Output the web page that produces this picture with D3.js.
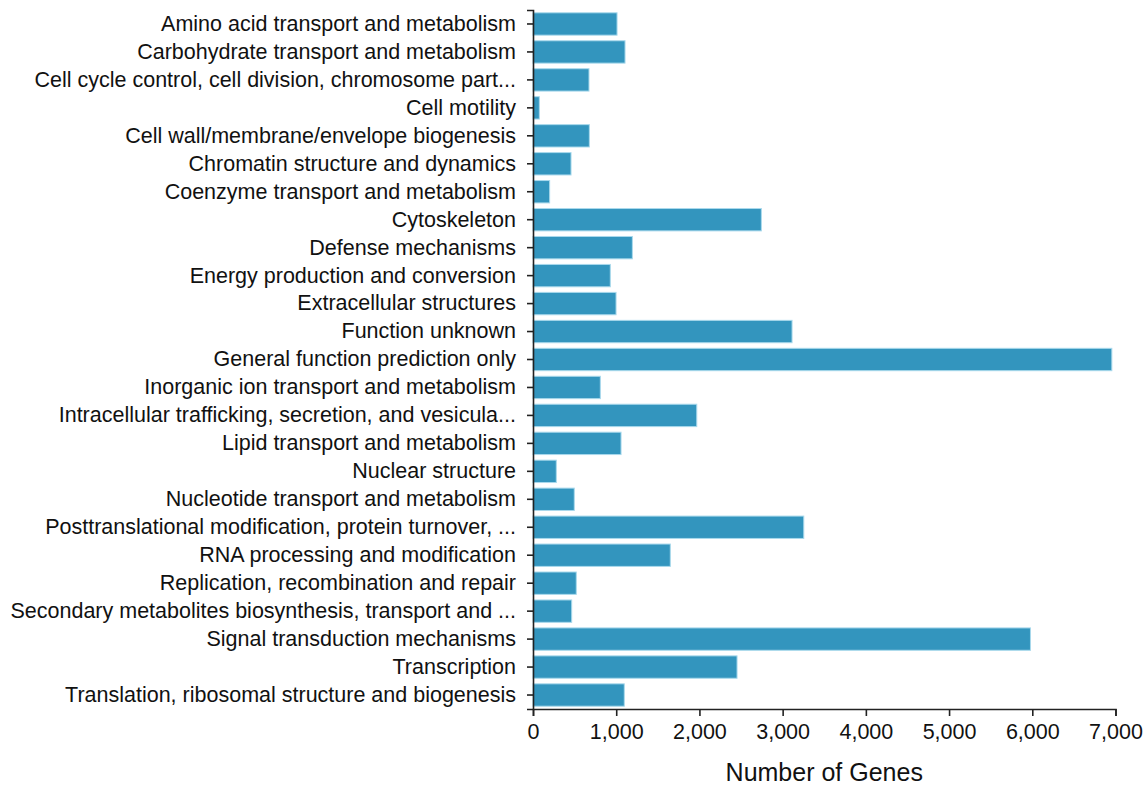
<!DOCTYPE html>
<html>
<head>
<meta charset="utf-8">
<script src="https://cdn.jsdelivr.net/npm/d3@7"></script>
<style>
  body { margin: 0; background: #fff; }
  svg { display: block; font-family: "Liberation Sans", Arial, sans-serif; }
</style>
</head>
<body>
<svg id="chart" width="1146" height="785"></svg>
<script>
const categories = [
  "Amino acid transport and metabolism",
  "Carbohydrate transport and metabolism",
  "Cell cycle control, cell division, chromosome part...",
  "Cell motility",
  "Cell wall/membrane/envelope biogenesis",
  "Chromatin structure and dynamics",
  "Coenzyme transport and metabolism",
  "Cytoskeleton",
  "Defense mechanisms",
  "Energy production and conversion",
  "Extracellular structures",
  "Function unknown",
  "General function prediction only",
  "Inorganic ion transport and metabolism",
  "Intracellular trafficking, secretion, and vesicula...",
  "Lipid transport and metabolism",
  "Nuclear structure",
  "Nucleotide transport and metabolism",
  "Posttranslational modification, protein turnover, ...",
  "RNA processing and modification",
  "Replication, recombination and repair",
  "Secondary metabolites biosynthesis, transport and ...",
  "Signal transduction mechanisms",
  "Transcription",
  "Translation, ribosomal structure and biogenesis"
];
const geneCounts = [1010, 1106, 673, 76, 677, 457, 200, 2744, 1194, 929, 998, 3113, 6956, 809, 1968, 1058, 280, 496, 3254, 1650, 520, 465, 5978, 2452, 1097];
const xTicks = [0, 1000, 2000, 3000, 4000, 5000, 6000, 7000];
const xTitle = "Number of Genes";

(function () {
const svg = d3.select("#chart");
const mLeft = 533, mRight = 1115.5, mTop = 10, mBottom = 709;

const x = d3.scaleLinear().domain([0, 7000]).range([mLeft, mRight]);
const y = d3.scaleBand().domain(categories).range([mTop, mBottom]).paddingInner(0.2).paddingOuter(0.1);

svg.append("g")
  .selectAll("rect")
  .data(categories)
  .join("rect")
  .attr("x", x(0))
  .attr("y", d => y(d))
  .attr("width", (d, i) => x(geneCounts[i]) - x(0))
  .attr("height", y.bandwidth())
  .attr("fill", "#3395be")
  .attr("stroke", "#a9d9ec")
  .attr("stroke-width", 1);

const yAxis = svg.append("g")
  .attr("transform", `translate(${mLeft},0)`)
  .call(d3.axisLeft(y).tickSize(6).tickSizeOuter(6).tickPadding(11));
yAxis.selectAll("text").attr("font-size", 21.5).attr("fill", "#111").attr("font-family", "Liberation Sans, Arial, sans-serif");

const xAxis = svg.append("g")
  .attr("transform", `translate(0,${mBottom})`)
  .call(d3.axisBottom(x).tickValues(xTicks).tickFormat(d3.format(",")).tickSize(7).tickSizeOuter(7).tickPadding(8));
xAxis.selectAll("text").attr("font-size", 21.5).attr("fill", "#111").attr("font-family", "Liberation Sans, Arial, sans-serif");

svg.selectAll(".domain, .tick line").attr("stroke", "#222").attr("stroke-width", 1.6);

svg.append("text")
  .attr("x", (mLeft + mRight) / 2)
  .attr("y", 781)
  .attr("text-anchor", "middle")
  .attr("font-size", 25)
  .attr("fill", "#111")
  .text(xTitle);
})();
</script>
</body>
</html>
